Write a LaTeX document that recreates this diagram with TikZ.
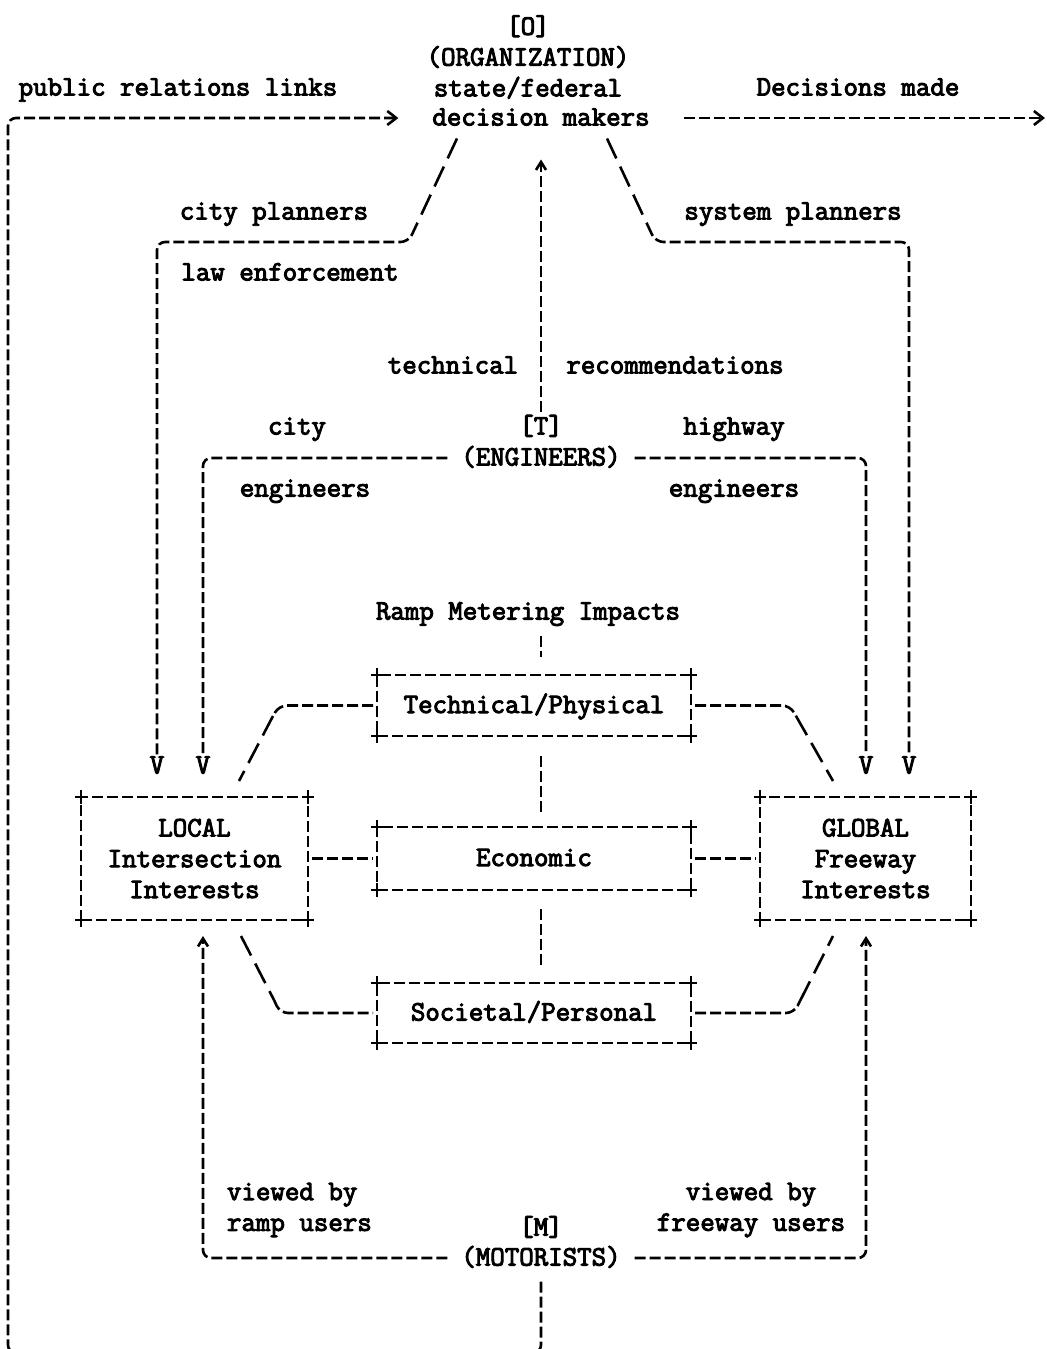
\documentclass[tikz,border=0pt]{standalone}
\usepackage{fontspec}
\newfontfamily\typewriter{Latin Modern Mono}[FakeBold=3.5]
\usetikzlibrary{arrows.meta,calc}

\tikzset{
  txt/.style={font=\typewriter\fontsize{14.06pt}{15.4pt}\selectfont, inner sep=0pt, outer sep=0pt, text=black},
  lbl/.style={txt, text height=7.5pt, text depth=0pt},
  multi/.style={txt, align=center},
  dl/.style={line width=1.3pt, dash pattern=on 5.5pt off 2pt},
  sl/.style={line width=1.3pt, dash pattern=on 11pt off 4.5pt},
  ibox/.style={lbl, draw, dl},
  mbox/.style={txt, align=center, draw, dl},
  cross/.style={line width=1.3pt, solid},
  tipR/.style={-{Straight Barb[length=4.5pt,width=7pt]}},
  tipU/.style={-{Straight Barb[length=4pt,width=5pt]}},
}

\begin{document}
\begin{tikzpicture}[x=0.5pt,y=-0.5pt]
\useasboundingbox (0,0) rectangle (1047,1349);
\fill[white] (0,0) rectangle (1047,1349);
\clip (0,0) rectangle (1047,1349);

% ---------- organisation ----------
\node[multi] (org) at (528,57) {[O]\\(ORGANIZATION)\\state/federal};
\node[lbl] (dm) at (541,118) {decision makers};
\node[lbl] (prl) at (178,88) {public relations links};
\node[lbl] (decm) at (858,88) {Decisions made};
\coordinate (out) at (1045,118);

\node[lbl] (cplan) at (274,212) {city planners};
\node[lbl] (splan) at (793,212) {system planners};
\node[lbl] (law) at (290,273) {law enforcement};
\node[lbl] (techn) at (453,366) {technical};
\node[lbl] (recom) at (675,366) {recommendations};

% ---------- engineers ----------
\node[lbl] (cityl) at (297,427) {city};
\node[lbl] (Tl) at (541,427) {[T]};
\node[lbl] (hwy) at (734,427) {highway};
\node[lbl] (eng) at (541,458) {(ENGINEERS)};
\node[lbl] (engl) at (305,489) {engineers};
\node[lbl] (engr) at (734,489) {engineers};

% ---------- impacts ----------
\node[lbl] (ramp) at (528,612) {Ramp Metering Impacts};
\node[ibox, minimum width=157pt, minimum height=30.5pt] (tech) at (534,705.5) {Technical/Physical};
\node[ibox, minimum width=157pt, minimum height=31.5pt] (econ) at (534,858.5) {Economic};
\node[ibox, minimum width=157pt, minimum height=30pt] (soc) at (534,1013) {Societal/Personal};
\node[mbox, minimum width=113.5pt, minimum height=61.5pt] (local) at (194.5,858.5) {LOCAL\\Intersection\\Interests};
\node[mbox, minimum width=105.5pt, minimum height=61.5pt] (glob) at (865.5,858.5) {GLOBAL\\Freeway\\Interests};

\foreach \b in {tech,econ,soc,local,glob}{
  \foreach \c in {north west,north east,south west,south east}{
    \draw[cross] (\b.\c) +(-6,0) -- +(6,0) +(0,-7) -- +(0,7);
  }
}

% arrow heads into the interest boxes
\node[lbl] (vL1) at (157,766) {V};
\node[lbl] (vL2) at (203,766) {V};
\node[lbl] (vR1) at (866,766) {V};
\node[lbl] (vR2) at (909,766) {V};

% ---------- motorists ----------
\node[txt, align=left, anchor=west] (vbl) at (227,1210) {viewed by\\ramp users};
\node[txt, align=center] (vbr) at (751,1210) {viewed by\\freeway users};
\node[lbl] (Ml) at (541,1228) {[M]};
\node[lbl] (mot) at (541,1258) {(MOTORISTS)};

\coordinate (cx) at (541,0);

% ---------- connectors ----------
% public relations links: motorists back to the decision makers
\draw[dl, tipR, rounded corners=4pt, shorten <=8pt, shorten >=17pt]
  (mot.south) -- (541,1353) -| (8,118) -- (dm.west);
% decisions made
\draw[dl, tipR, shorten <=17pt] (dm.east) -- (out);

% city planners / law enforcement
\coordinate (cpa) at ([shift={(-84,13)}]dm.south);
\coordinate (cpb) at (416,226);
\draw[sl] (cpa) -- (cpb);
\draw[dl, rounded corners=4pt, shorten >=2pt] (cpb) -- (408.5,242) -- (157,242) -- (vL1.north);

% system planners
\coordinate (spa) at ([shift={(66,13)}]dm.south);
\coordinate (spb) at (648,226);
\draw[sl] (spa) -- (spb);
\draw[dl, rounded corners=4pt, shorten >=2pt] (spb) -- (655.5,242) -- (909,242) -- (vR2.north);

% technical recommendations
\draw[dl, tipU, shorten <=4pt, shorten >=17pt] (Tl.north) -- (dm.south);

% city / highway engineers
\draw[dl, rounded corners=4pt, shorten <=7pt, shorten >=2pt] (eng.west) -- (203,458) -- (vL2.north);
\draw[dl, rounded corners=4pt, shorten <=7pt, shorten >=2pt] (eng.east) -- (866,458) -- (vR1.north);

% impacts column
\draw[dl, shorten <=8pt, shorten >=9pt] (ramp.south -| cx) -- (tech.north -| cx);
\draw[dl, shorten <=10pt, shorten >=7.5pt] (tech.south -| cx) -- (econ.north -| cx);
\draw[dl, shorten <=9.5pt, shorten >=8.5pt] (econ.south -| cx) -- (soc.north -| cx);

% technical/physical to local and global
\coordinate (tla) at (273,716);
\draw[dl, rounded corners=4pt, shorten <=2pt] (tech.west) -- (279,705.5) -- (tla);
\draw[sl] (tla) -- ([shift={(-69,-16)}]local.north east);
\coordinate (tga) at (796,716);
\draw[dl, rounded corners=4pt, shorten <=2pt] (tech.east) -- (790,705.5) -- (tga);
\draw[sl] (tga) -- ([shift={(73,-16)}]glob.north west);

% economic to local and global
\draw[dl, shorten <=2pt, shorten >=2pt] (local.east) -- (econ.west);
\draw[dl, shorten <=2pt, shorten >=2pt] (econ.east) -- (glob.west);

% societal/personal to local and global
\coordinate (lsa) at ([shift={(-67,16)}]local.south east);
\coordinate (lsb) at (274,1000);
\draw[sl] (lsa) -- (lsb);
\draw[dl, rounded corners=4pt, shorten >=2pt] (lsb) -- (280,1013) -- (soc.west);
\coordinate (sga) at (800,1001);
\draw[dl, rounded corners=4pt, shorten <=2pt] (soc.east) -- (794,1013) -- (sga);
\draw[sl] (sga) -- ([shift={(73,16)}]glob.south west);

% viewed by ramp / freeway users
\draw[dl, tipU, rounded corners=4pt, shorten <=7pt, shorten >=8pt] (mot.west) -- (203,1258) -- (vL2 |- local.south);
\draw[dl, tipU, rounded corners=4pt, shorten <=7pt, shorten >=8pt] (mot.east) -- (866,1258) -- (vR1 |- glob.south);

\end{tikzpicture}
\end{document}
